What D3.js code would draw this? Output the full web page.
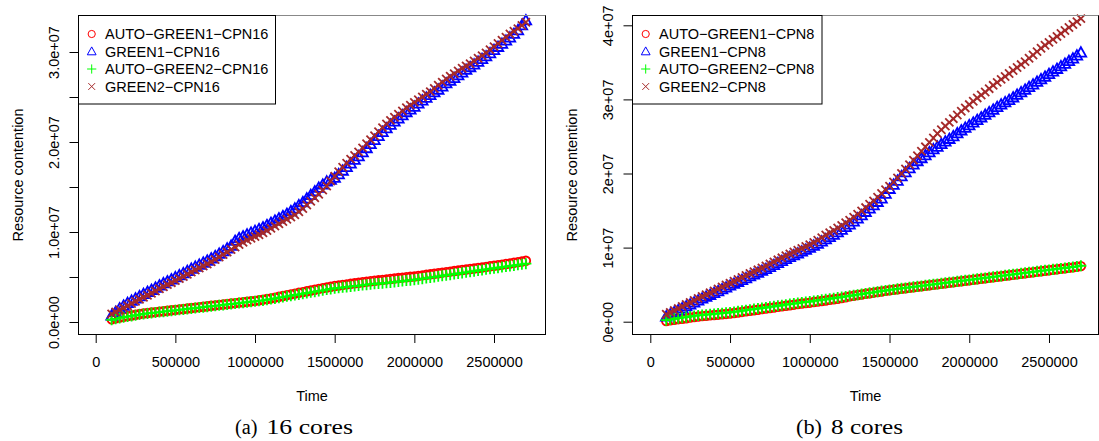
<!DOCTYPE html>
<html><head><meta charset="utf-8">
<script src="https://cdn.jsdelivr.net/npm/d3@7"></script>
<style>
body{margin:0;background:#fff}
svg{display:block}
text{font-family:"Liberation Sans",Arial,Helvetica,sans-serif;fill:#000}
</style>
</head><body>
<svg id="c" width="1099" height="441"></svg>
<script>
// ---------- data ----------
const time = [
100000,125000,150000,175000,200000,225000,250000,275000,
300000,325000,350000,375000,400000,425000,450000,475000,
500000,525000,550000,575000,600000,625000,650000,675000,
700000,725000,750000,775000,800000,825000,850000,875000,
900000,925000,950000,975000,1000000,1025000,1050000,1075000,
1100000,1125000,1150000,1175000,1200000,1225000,1250000,1275000,
1300000,1325000,1350000,1375000,1400000,1425000,1450000,1475000,
1500000,1525000,1550000,1575000,1600000,1625000,1650000,1675000,
1700000,1725000,1750000,1775000,1800000,1825000,1850000,1875000,
1900000,1925000,1950000,1975000,2000000,2025000,2050000,2075000,
2100000,2125000,2150000,2175000,2200000,2225000,2250000,2275000,
2300000,2325000,2350000,2375000,2400000,2425000,2450000,2475000,
2500000,2525000,2550000,2575000,2600000,2625000,2650000,2675000,
2700000];

// ---- 16 cores ----
const autoGreen1_cpn16 = [
0.3e6,0.4e6,0.5e6,0.58e6,0.65e6,0.72e6,0.8e6,0.88e6,
0.95e6,1.0e6,1.05e6,1.1e6,1.15e6,1.2e6,1.25e6,1.3e6,
1.35e6,1.4e6,1.45e6,1.5e6,1.55e6,1.6e6,1.65e6,1.7e6,
1.75e6,1.8e6,1.85e6,1.9e6,1.95e6,2.0e6,2.05e6,2.1e6,
2.15e6,2.2e6,2.25e6,2.3e6,2.35e6,2.42e6,2.48e6,2.55e6,
2.62e6,2.71e6,2.8e6,2.89e6,2.98e6,3.07e6,3.15e6,3.24e6,
3.32e6,3.41e6,3.5e6,3.59e6,3.68e6,3.76e6,3.84e6,3.92e6,
4.0e6,4.06e6,4.12e6,4.18e6,4.24e6,4.3e6,4.36e6,4.42e6,
4.48e6,4.53e6,4.58e6,4.63e6,4.68e6,4.73e6,4.78e6,4.83e6,
4.88e6,4.93e6,4.97e6,5.02e6,5.06e6,5.12e6,5.18e6,5.24e6,
5.3e6,5.36e6,5.42e6,5.48e6,5.54e6,5.6e6,5.66e6,5.72e6,
5.78e6,5.84e6,5.89e6,5.95e6,6.0e6,6.06e6,6.12e6,6.19e6,
6.25e6,6.31e6,6.37e6,6.44e6,6.5e6,6.58e6,6.65e6,6.72e6,
6.8e6];
const green1_cpn16 = [
0.7e6,1.1e6,1.5e6,1.8e6,2.1e6,2.35e6,2.6e6,2.85e6,
3.1e6,3.33e6,3.55e6,3.8e6,4.05e6,4.28e6,4.5e6,4.72e6,
4.95e6,5.18e6,5.4e6,5.65e6,5.9e6,6.12e6,6.35e6,6.58e6,
6.8e6,7.05e6,7.3e6,7.57e6,7.85e6,8.15e6,8.45e6,9.0e6,
9.3e6,9.5e6,9.7e6,9.9e6,10.1e6,10.3e6,10.5e6,10.75e6,
11.0e6,11.25e6,11.5e6,11.75e6,12.0e6,12.3e6,12.6e6,12.95e6,
13.3e6,13.7e6,14.1e6,14.5e6,14.9e6,15.25e6,15.6e6,15.8e6,
16.0e6,16.4e6,16.8e6,17.2e6,17.6e6,18.0e6,18.4e6,18.85e6,
19.3e6,19.75e6,20.2e6,20.65e6,21.1e6,21.5e6,21.9e6,22.25e6,
22.6e6,22.95e6,23.3e6,23.6e6,23.9e6,24.25e6,24.6e6,24.9e6,
25.2e6,25.5e6,25.8e6,26.15e6,26.5e6,26.8e6,27.1e6,27.4e6,
27.7e6,28.0e6,28.3e6,28.6e6,28.9e6,29.2e6,29.5e6,29.85e6,
30.2e6,30.55e6,30.9e6,31.25e6,31.6e6,32.0e6,32.4e6,32.95e6,
33.5e6];
const autoGreen2_cpn16 = [
0.25e6,0.35e6,0.45e6,0.53e6,0.6e6,0.68e6,0.75e6,0.83e6,
0.9e6,0.95e6,1.0e6,1.05e6,1.1e6,1.15e6,1.2e6,1.25e6,
1.3e6,1.35e6,1.4e6,1.45e6,1.5e6,1.55e6,1.6e6,1.65e6,
1.7e6,1.75e6,1.8e6,1.85e6,1.9e6,1.95e6,2.0e6,2.05e6,
2.1e6,2.15e6,2.2e6,2.25e6,2.3e6,2.35e6,2.4e6,2.47e6,
2.55e6,2.62e6,2.7e6,2.77e6,2.85e6,2.92e6,3.0e6,3.07e6,
3.15e6,3.22e6,3.3e6,3.37e6,3.45e6,3.52e6,3.6e6,3.67e6,
3.75e6,3.8e6,3.85e6,3.9e6,3.95e6,4.0e6,4.05e6,4.1e6,
4.15e6,4.2e6,4.25e6,4.28e6,4.3e6,4.35e6,4.4e6,4.45e6,
4.5e6,4.55e6,4.6e6,4.65e6,4.7e6,4.76e6,4.82e6,4.88e6,
4.95e6,5.01e6,5.08e6,5.14e6,5.2e6,5.26e6,5.33e6,5.39e6,
5.46e6,5.52e6,5.59e6,5.65e6,5.72e6,5.78e6,5.85e6,5.91e6,
5.97e6,6.03e6,6.1e6,6.16e6,6.22e6,6.28e6,6.35e6,6.41e6,
6.48e6];
const green2_cpn16 = [
0.9e6,1.12e6,1.35e6,1.57e6,1.8e6,2.05e6,2.3e6,2.52e6,
2.75e6,2.97e6,3.2e6,3.45e6,3.7e6,3.92e6,4.15e6,4.37e6,
4.6e6,4.82e6,5.05e6,5.3e6,5.55e6,5.77e6,6.0e6,6.22e6,
6.45e6,6.7e6,6.95e6,7.22e6,7.5e6,7.77e6,8.05e6,8.32e6,
8.6e6,8.85e6,9.1e6,9.3e6,9.5e6,9.7e6,9.9e6,10.15e6,
10.4e6,10.65e6,10.9e6,11.15e6,11.4e6,11.65e6,11.9e6,12.25e6,
12.6e6,13.0e6,13.4e6,13.8e6,14.2e6,14.65e6,15.1e6,15.65e6,
16.2e6,16.7e6,17.2e6,17.65e6,18.1e6,18.5e6,18.9e6,19.35e6,
19.8e6,20.25e6,20.7e6,21.15e6,21.6e6,22.0e6,22.4e6,22.75e6,
23.1e6,23.45e6,23.8e6,24.1e6,24.4e6,24.7e6,25.0e6,25.3e6,
25.6e6,25.95e6,26.3e6,26.65e6,27.0e6,27.3e6,27.6e6,27.9e6,
28.2e6,28.45e6,28.7e6,29.0e6,29.3e6,29.6e6,29.9e6,30.25e6,
30.6e6,30.95e6,31.3e6,31.65e6,32.0e6,32.3e6,32.6e6,32.95e6,
33.3e6];

// ---- 8 cores ----
const autoGreen1_cpn8 = [
0.1e6,0.18e6,0.27e6,0.34e6,0.4e6,0.47e6,0.55e6,0.63e6,
0.7e6,0.75e6,0.8e6,0.85e6,0.9e6,0.95e6,1.0e6,1.05e6,
1.1e6,1.17e6,1.25e6,1.32e6,1.4e6,1.47e6,1.55e6,1.62e6,
1.7e6,1.77e6,1.85e6,1.92e6,2.0e6,2.07e6,2.15e6,2.22e6,
2.3e6,2.37e6,2.45e6,2.51e6,2.57e6,2.65e6,2.72e6,2.8e6,
2.87e6,2.95e6,3.02e6,3.1e6,3.18e6,3.3e6,3.42e6,3.5e6,
3.6e6,3.68e6,3.76e6,3.84e6,3.92e6,4.0e6,4.08e6,4.16e6,
4.24e6,4.31e6,4.38e6,4.45e6,4.51e6,4.58e6,4.65e6,4.72e6,
4.78e6,4.85e6,4.92e6,4.99e6,5.05e6,5.12e6,5.19e6,5.26e6,
5.32e6,5.39e6,5.46e6,5.53e6,5.59e6,5.66e6,5.73e6,5.8e6,
5.86e6,5.93e6,6.0e6,6.07e6,6.13e6,6.2e6,6.27e6,6.34e6,
6.4e6,6.47e6,6.54e6,6.61e6,6.67e6,6.74e6,6.81e6,6.88e6,
6.94e6,7.01e6,7.07e6,7.14e6,7.2e6,7.27e6,7.33e6,7.41e6,
7.5e6];
const green1_cpn8 = [
0.7e6,0.97e6,1.25e6,1.52e6,1.8e6,2.05e6,2.3e6,2.57e6,
2.85e6,3.1e6,3.35e6,3.6e6,3.85e6,4.1e6,4.35e6,4.6e6,
4.85e6,5.1e6,5.35e6,5.6e6,5.85e6,6.1e6,6.35e6,6.6e6,
6.85e6,7.1e6,7.35e6,7.62e6,7.9e6,8.17e6,8.45e6,8.7e6,
8.95e6,9.2e6,9.45e6,9.7e6,9.95e6,10.22e6,10.5e6,10.8e6,
11.1e6,11.4e6,11.7e6,12.05e6,12.4e6,12.75e6,13.1e6,13.5e6,
13.9e6,14.35e6,14.8e6,15.25e6,15.7e6,16.15e6,16.6e6,17.25e6,
17.9e6,18.45e6,19.0e6,19.6e6,20.15e6,20.7e6,21.2e6,21.65e6,
22.05e6,22.45e6,22.85e6,23.25e6,23.6e6,23.95e6,24.3e6,24.65e6,
25.0e6,25.4e6,25.8e6,26.15e6,26.5e6,26.85e6,27.2e6,27.55e6,
27.9e6,28.25e6,28.6e6,28.95e6,29.3e6,29.6e6,29.9e6,30.25e6,
30.6e6,30.95e6,31.3e6,31.65e6,32.0e6,32.35e6,32.7e6,33.05e6,
33.4e6,33.75e6,34.1e6,34.45e6,34.8e6,35.15e6,35.5e6,35.9e6,
36.3e6];
const autoGreen2_cpn8 = [
0.2e6,0.3e6,0.4e6,0.48e6,0.55e6,0.62e6,0.7e6,0.78e6,
0.85e6,0.9e6,0.95e6,1.0e6,1.05e6,1.1e6,1.15e6,1.2e6,
1.25e6,1.32e6,1.4e6,1.47e6,1.55e6,1.62e6,1.7e6,1.77e6,
1.85e6,1.92e6,2.0e6,2.07e6,2.15e6,2.22e6,2.3e6,2.37e6,
2.45e6,2.52e6,2.6e6,2.66e6,2.72e6,2.8e6,2.87e6,2.95e6,
3.02e6,3.1e6,3.17e6,3.25e6,3.33e6,3.41e6,3.49e6,3.57e6,
3.65e6,3.73e6,3.81e6,3.89e6,3.97e6,4.05e6,4.13e6,4.21e6,
4.29e6,4.36e6,4.43e6,4.5e6,4.56e6,4.63e6,4.7e6,4.77e6,
4.83e6,4.9e6,4.97e6,5.04e6,5.1e6,5.17e6,5.24e6,5.31e6,
5.37e6,5.44e6,5.51e6,5.58e6,5.64e6,5.71e6,5.78e6,5.85e6,
5.91e6,5.98e6,6.05e6,6.12e6,6.18e6,6.25e6,6.32e6,6.39e6,
6.45e6,6.52e6,6.59e6,6.66e6,6.72e6,6.79e6,6.86e6,6.93e6,
6.99e6,7.06e6,7.12e6,7.19e6,7.25e6,7.32e6,7.38e6,7.46e6,
7.55e6];
const green2_cpn8 = [
1.0e6,1.25e6,1.5e6,1.77e6,2.05e6,2.32e6,2.6e6,2.87e6,
3.15e6,3.4e6,3.65e6,3.9e6,4.15e6,4.42e6,4.7e6,4.95e6,
5.2e6,5.45e6,5.7e6,5.97e6,6.25e6,6.5e6,6.75e6,7.0e6,
7.25e6,7.52e6,7.8e6,8.07e6,8.35e6,8.62e6,8.9e6,9.15e6,
9.4e6,9.65e6,9.9e6,10.15e6,10.4e6,10.7e6,11.0e6,11.35e6,
11.7e6,12.0e6,12.3e6,12.65e6,13.0e6,13.35e6,13.7e6,14.1e6,
14.5e6,14.95e6,15.4e6,15.85e6,16.3e6,16.8e6,17.3e6,17.8e6,
18.3e6,18.85e6,19.4e6,20.0e6,20.6e6,21.2e6,21.8e6,22.4e6,
23.0e6,23.6e6,24.2e6,24.8e6,25.4e6,25.9e6,26.4e6,26.9e6,
27.4e6,27.9e6,28.4e6,28.85e6,29.3e6,29.75e6,30.2e6,30.6e6,
31.0e6,31.45e6,31.9e6,32.3e6,32.7e6,33.1e6,33.5e6,33.9e6,
34.3e6,34.7e6,35.1e6,35.55e6,36.0e6,36.45e6,36.9e6,37.3e6,
37.7e6,38.1e6,38.5e6,38.9e6,39.3e6,39.7e6,40.1e6,40.5e6,
40.9e6];

const seriesNames16 = ["AUTO\u2212GREEN1\u2212CPN16","GREEN1\u2212CPN16","AUTO\u2212GREEN2\u2212CPN16","GREEN2\u2212CPN16"];
const seriesNames8  = ["AUTO\u2212GREEN1\u2212CPN8","GREEN1\u2212CPN8","AUTO\u2212GREEN2\u2212CPN8","GREEN2\u2212CPN8"];
const seriesColors = ["#ff0000","#0000ff","#00ff00","#a52a2a"];

const xTicks = [0,500000,1000000,1500000,2000000,2500000];
const xTickLabels = ["0","500000","1000000","1500000","2000000","2500000"];
const yTicks16 = [0,5e6,10e6,15e6,20e6,25e6,30e6];
const yTickLabels16 = ["0.0e+00","","1.0e+07","","2.0e+07","","3.0e+07"];
const yTicks8 = [0,10e6,20e6,30e6,40e6];
const yTickLabels8 = ["0e+00","1e+07","2e+07","3e+07","4e+07"];
const xTitle = "Time";
const yTitle = "Resource contention";
const captions = [["(a)","16 cores"],["(b)","8 cores"]];

// ---------- drawing ----------
function shapePaths(k){
  return [
    d3.symbol().type(d3.symbolCircle).size(Math.PI*(3.6*k)*(3.6*k))(),
    `M0,${-4.6*k}L${4.4*k},${3.3*k}L${-4.4*k},${3.3*k}Z`,
    `M${-4.6*k},0H${4.6*k}M0,${-4.6*k}V${4.6*k}`,
    `M${-3.4*k},${-3.4*k}L${3.4*k},${3.4*k}M${-3.4*k},${3.4*k}L${3.4*k},${-3.4*k}`
  ];
}
const legendShapes = shapePaths(1);
const dataShapes = shapePaths(1.2);

const svg = d3.select("#c");
const FS = "14.5px";

function drawPanel(p){
  const g = svg.append("g");
  const x = d3.scaleLinear().domain(p.xDomain).range([p.left, p.right]);
  const y = d3.scaleLinear().domain(p.yDomain).range([p.bottom, p.top]);

  p.series.forEach((vals, si) => {
    g.append("g").selectAll("path").data(vals).join("path")
      .attr("transform", (d,i) => `translate(${x(time[i])},${y(d)})`)
      .attr("d", dataShapes[si])
      .attr("fill","none")
      .attr("stroke", seriesColors[si])
      .attr("stroke-width", 1.8);
  });

  // x axis
  const xa = g.append("g").attr("transform",`translate(0,${p.bottom})`)
    .call(d3.axisBottom(x).tickValues(xTicks).tickFormat((d,i)=>xTickLabels[i]).tickSize(8.5));
  xa.attr("font-family",null).attr("font-size",null);
  xa.select(".domain").remove();
  xa.selectAll(".tick line").attr("stroke","#000");
  xa.selectAll(".tick text").attr("y",32).attr("dy",null).style("font-size",FS);

  // y axis
  const ya = g.append("g").attr("transform",`translate(${p.left},0)`)
    .call(d3.axisLeft(y).tickValues(p.yTicks).tickFormat((d,i)=>p.yLabels[i]).tickSize(9));
  ya.attr("font-family",null).attr("font-size",null);
  ya.select(".domain").remove();
  ya.selectAll(".tick line").attr("stroke","#000");
  ya.selectAll(".tick text").attr("x",null).attr("dy",null)
    .attr("transform","translate(-20,0) rotate(-90)")
    .attr("text-anchor","middle").style("font-size",FS);

  // box
  g.append("rect").attr("x",p.left).attr("y",p.top)
    .attr("width",p.right-p.left).attr("height",p.bottom-p.top)
    .attr("fill","none").attr("stroke","#000").attr("stroke-width",1);
  g.append("line").attr("x1",p.left).attr("x2",p.right).attr("y1",p.top).attr("y2",p.top)
    .attr("stroke","#888").attr("stroke-width",1.2);

  // titles
  const cx = (p.left+p.right)/2;
  g.append("text").attr("x",cx).attr("y",401).attr("text-anchor","middle").style("font-size",FS).text(xTitle);
  g.append("text").attr("transform",`translate(${p.ylabX},${(p.top+p.bottom)/2}) rotate(-90)`)
    .attr("text-anchor","middle").style("font-size",FS).text(yTitle);

  // legend
  const lg = g.append("g").attr("transform",`translate(${p.left},${p.top})`);
  lg.append("rect").attr("x",0).attr("y",0).attr("width",p.legW).attr("height",88.5)
    .attr("fill","#fff").attr("stroke","#000").attr("stroke-width",1);
  p.names.forEach((nm,i)=>{
    const cy = 18.5 + i*17.5;
    lg.append("path").attr("transform",`translate(13.2,${cy})`).attr("d",legendShapes[i])
      .attr("fill","none").attr("stroke",seriesColors[i]).attr("stroke-width",1);
    lg.append("text").attr("x",26.6).attr("y",cy+5.2).style("font-size",FS).text(nm);
  });

  // caption
  const cap = g.append("g");
  cap.append("text").attr("x",p.capA[0]).attr("y",433.5).attr("textLength",p.capA[1]).attr("lengthAdjust","spacingAndGlyphs")
    .style("font-family","'Liberation Serif','Times New Roman',serif").style("font-size","20px").text(p.caption[0]);
  cap.append("text").attr("x",p.capB[0]).attr("y",433.5).attr("textLength",p.capB[1]).attr("lengthAdjust","spacingAndGlyphs")
    .style("font-family","'Liberation Serif','Times New Roman',serif").style("font-size","20px").text(p.caption[1]);
}

drawPanel({
  left:78.5, right:545.5, top:15.5, bottom:334.5,
  xDomain:[-107960, 2823200], yDomain:[-1.389e6, 3.4056e7],
  yTicks:yTicks16, yLabels:yTickLabels16,
  series:[autoGreen1_cpn16, green1_cpn16, autoGreen2_cpn16, green2_cpn16],
  names:seriesNames16, legW:197, ylabX:22.5,
  caption:captions[0], capA:[235, 22.5], capB:[266.5, 86.5]
});
drawPanel({
  left:632.5, right:1098.5, top:15.5, bottom:334.5,
  xDomain:[-111600, 2810400], yDomain:[-1.727e6, 4.1323e7],
  yTicks:yTicks8, yLabels:yTickLabels8,
  series:[autoGreen1_cpn8, green1_cpn8, autoGreen2_cpn8, green2_cpn8],
  names:seriesNames8, legW:189.5, ylabX:577,
  caption:captions[1], capA:[796, 26], capB:[831, 72]
});
</script>
</body></html>
